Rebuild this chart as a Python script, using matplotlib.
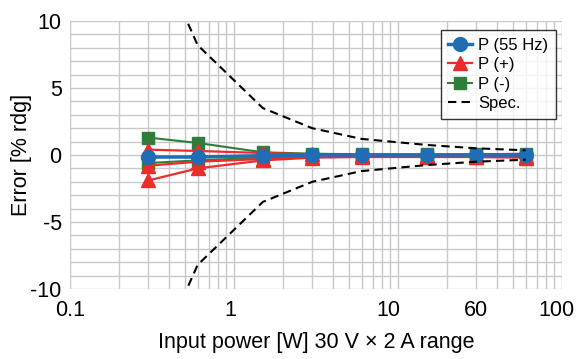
import numpy as np
import matplotlib
matplotlib.use("Agg")
import matplotlib.pyplot as plt
from matplotlib.ticker import FixedLocator, NullFormatter

plt.rcParams['font.family'] = ['Liberation Sans', 'DejaVu Sans']

# input power points [W]
power = [0.3, 0.6, 1.5, 3, 6, 15, 30, 60]

# error [% rdg]
p_55hz = [-0.15, -0.15, -0.05, 0.0, 0.0, 0.0, 0.0, 0.0]
p_plus = [
    [0.4, 0.3, 0.15, 0.05, 0.02, 0.0, -0.02, -0.05],
    [-0.8, -0.5, -0.3, -0.15, -0.1, -0.1, -0.15, -0.15],
    [-1.9, -1.0, -0.4, -0.2, -0.15, -0.15, -0.15, -0.2],
]
p_minus = [
    [1.3, 0.9, 0.2, 0.1, 0.05, 0.05, 0.05, 0.1],
    [-0.6, -0.4, -0.2, -0.1, -0.05, 0.0, 0.0, 0.0],
]
spec = [16.5, 8.2, 3.5, 2.0, 1.2, 0.75, 0.5, 0.35]

# tick labels as printed on the chart
tick_pos = [0.1, 0.95, 8.7, 30, 93]
tick_lbl = ['0.1', '1', '10', '60', '100']

blue = '#1f6db5'
red = '#ee2b2b'
green = '#2f7d3b'

fig = plt.figure(figsize=(5.8, 3.59), dpi=100)
ax = fig.add_axes([70 / 580, 1 - 289 / 359, 492 / 580, 268 / 359])

for i, s in enumerate(p_minus):
    ax.plot(power, s, color=green, marker='s', markersize=9, lw=1.5,
            label='P (-)' if i == 0 else None, zorder=3)
for i, s in enumerate(p_plus):
    ax.plot(power, s, color=red, marker='^', markersize=10, lw=1.6,
            label='P (+)' if i == 0 else None, zorder=4)
ax.plot(power, p_55hz, color=blue, marker='o', markersize=10, lw=2.5,
        label='P (55 Hz)', zorder=5)
ax.plot(power, spec, color='black', ls=(0, (4, 2.5)), lw=1.5, label='Spec.', zorder=6)
ax.plot(power, [-v for v in spec], color='black', ls=(0, (4, 2.5)), lw=1.5, zorder=6)

ax.set_xscale('log')
ax.set_xlim(0.1, 100)
ax.set_ylim(-10, 10)

minor = [m * 10.0 ** e for e in range(-1, 2) for m in range(1, 10)] + [100]
ax.xaxis.set_minor_locator(FixedLocator(minor))
ax.xaxis.set_minor_formatter(NullFormatter())
ax.set_xticks(tick_pos)
ax.set_xticklabels(tick_lbl)
ax.set_yticks([-10, -5, 0, 5, 10])
ax.set_yticklabels(['-10', '-5', '0', '5', '10'])
ax.yaxis.set_minor_locator(FixedLocator(np.arange(-10, 11, 1)))

ax.grid(False)
for x in minor:
    ax.axvline(x, color='#c8c8cc', lw=1, zorder=0)
for y in range(-10, 11):
    ax.axhline(y, color='#c8c8cc', lw=1, zorder=0)

ax.tick_params(which='both', length=0, labelsize=15.5)
ax.tick_params(axis='y', pad=6)
ax.tick_params(axis='x', pad=8)
for sp in ax.spines.values():
    sp.set_visible(False)

ax.set_xlabel('Input power [W] 30 V × 2 A range', fontsize=15.5)
ax.set_ylabel('Error [% rdg]', fontsize=15.5)
ax.xaxis.set_label_coords(0.5, -0.162)
ax.yaxis.set_label_coords(-0.077, 0.5)

h, l = ax.get_legend_handles_labels()
order = [l.index('P (55 Hz)'), l.index('P (+)'), l.index('P (-)'), l.index('Spec.')]
leg = ax.legend([h[i] for i in order], [l[i] for i in order],
                loc='upper right', bbox_to_anchor=(0.988, 0.966), borderaxespad=0,
                fontsize=12, frameon=True, fancybox=False,
                handlelength=1.4, handletextpad=0.4, borderpad=0.45,
                labelspacing=0.27)
leg.get_frame().set_edgecolor('black')
leg.get_frame().set_linewidth(1)

fig.savefig('out.png', dpi=100)
